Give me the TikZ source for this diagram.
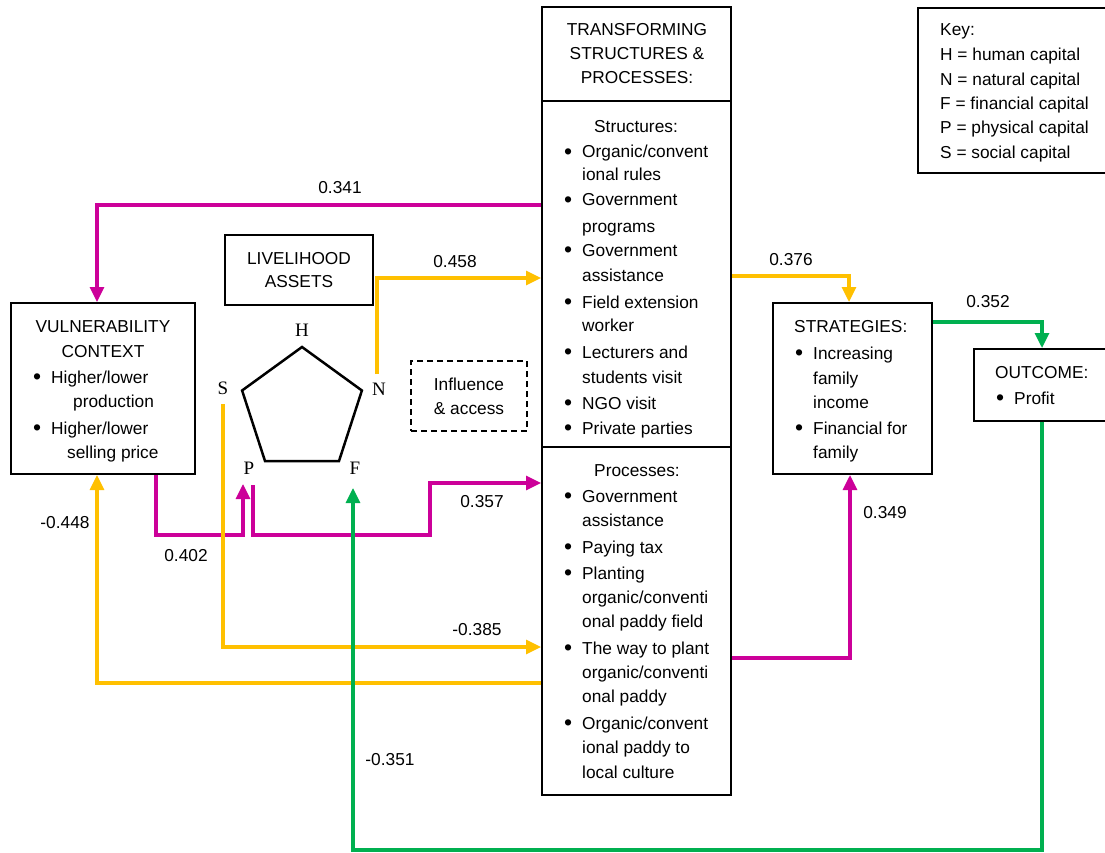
\documentclass[tikz,border=0pt]{standalone}
\usepackage{fontspec}
\setmainfont{Liberation Sans}
\newfontfamily\serifl{Liberation Serif}
\usetikzlibrary{arrows.meta}
\definecolor{mag}{HTML}{CC0099}
\definecolor{yel}{HTML}{FFC000}
\definecolor{grn}{HTML}{00B050}
\newcommand\bul{\llap{\raisebox{-1.5pt}{\fontsize{23}{20}\selectfont\textbullet}\hspace{10pt}}}
\newcommand\ltext[4]{\node[txt,anchor=base west] (#1) at (#2,{#3+6}) {#4};}
\newcommand\ctext[4]{\node[txt,anchor=base] (#1) at (#2,{#3+6}) {#4};}
\begin{document}
\begin{tikzpicture}[x=1pt,y=-1pt,
  txt/.style={inner sep=0pt,font=\fontsize{17.3}{20}\selectfont},
  lbl/.style={inner sep=0pt,font=\fontsize{17.3}{20}\selectfont},
  seriflbl/.style={inner sep=0pt,font=\serifl\fontsize{19}{20}\selectfont},
  box/.style={draw,line width=2pt,inner sep=0pt},
  conn/.style={line width=3.2pt,line join=miter,-{Triangle[length=15pt,width=14pt]}},
  mc/.style={conn,draw=mag},
  yc/.style={conn,draw=yel},
  gc/.style={conn,draw=grn}]
\useasboundingbox (0,0) rectangle (1105,853);
\fill[white] (0,0) rectangle (1105,853);

% boxes
\node[box,minimum width=184pt,minimum height=171pt] (vul) at (103,388.5) {};
\node[box,minimum width=148pt,minimum height=70pt] (live) at (299,270) {};
\node[box,dash pattern=on 6pt off 4pt,minimum width=116pt,minimum height=70pt] (infl) at (469,396) {};
\node[box,minimum width=189pt,minimum height=94pt] (tsph) at (636.5,54) {};
\node[box,minimum width=189pt,minimum height=346pt] (tsps) at (636.5,274) {};
\node[box,minimum width=189pt,minimum height=348pt] (tspp) at (636.5,621) {};
\node[box,minimum width=159pt,minimum height=171pt] (strat) at (852.5,388.5) {};
\node[box,minimum width=136pt,minimum height=72pt] (outc) at (1042,385) {};
\node[box,minimum width=192pt,minimum height=165pt] (key) at (1014,90.5) {};

% pentagon
\draw[line width=2.5pt,line join=miter] (302,347) -- (361.9,390.5) -- (339,461) -- (265,461) -- (242.1,390.5) -- cycle;
\node[seriflbl] (capH) at (302,330) {H};
\node[seriflbl] (capS) at (223,388) {S};
\node[seriflbl] (capN) at (379,389) {N};
\node[seriflbl] (capP) at (249,468) {P};
\node[seriflbl] (capF) at (355,468) {F};

% texts
\ctext{v1}{103}{326}{VULNERABILITY}
\ctext{v2}{103}{351}{CONTEXT}
\ltext{v3}{51}{377}{\bul Higher/lower}
\ltext{v4}{73}{401}{production}
\ltext{v5}{51}{428}{\bul Higher/lower}
\ltext{v6}{67}{452}{selling price}

\ctext{l1}{299}{258}{LIVELIHOOD}
\ctext{l2}{299}{281}{ASSETS}
\ctext{i1}{469}{384}{Influence}
\ctext{i2}{469}{408}{\& access}

\ctext{t1}{637}{30}{TRANSFORMING}
\ctext{t2}{637}{54}{STRUCTURES \&}
\ctext{t3}{637}{78}{PROCESSES:}

\ctext{s0}{636}{127}{Structures:}
\ltext{s1}{582}{152}{\bul Organic/convent}
\ltext{s2}{582}{175}{ional rules}
\ltext{s3}{582}{200}{\bul Government}
\ltext{s4}{582}{226}{programs}
\ltext{s5}{582}{250}{\bul Government}
\ltext{s6}{582}{275}{assistance}
\ltext{s7}{582}{302}{\bul Field extension}
\ltext{s8}{582}{325}{worker}
\ltext{s9}{582}{352}{\bul Lecturers and}
\ltext{s10}{582}{377}{students visit}
\ltext{s11}{582}{403}{\bul NGO visit}
\ltext{s12}{582}{428}{\bul Private parties}

\ctext{p0}{637}{470}{Processes:}
\ltext{p1}{582}{496}{\bul Government}
\ltext{p2}{582}{520}{assistance}
\ltext{p3}{582}{547}{\bul Paying tax}
\ltext{p4}{582}{573}{\bul Planting}
\ltext{p5}{582}{597}{organic/conventi}
\ltext{p6}{582}{621}{onal paddy field}
\ltext{p7}{582}{648}{\bul The way to plant}
\ltext{p8}{582}{672}{organic/conventi}
\ltext{p9}{582}{696}{onal paddy}
\ltext{p10}{582}{723}{\bul Organic/convent}
\ltext{p11}{582}{747}{ional paddy to}
\ltext{p12}{582}{772}{local culture}

\ltext{g0}{794}{326}{STRATEGIES:}
\ltext{g1}{813}{353}{\bul Increasing}
\ltext{g2}{813}{378}{family}
\ltext{g3}{813}{402}{income}
\ltext{g4}{813}{428}{\bul Financial for}
\ltext{g5}{813}{452}{family}

\ltext{o0}{995}{372}{OUTCOME:}
\ltext{o1}{1014}{398}{\bul Profit}

\ltext{k0}{940}{30}{Key:}
\ltext{k1}{940}{55}{H = human capital}
\ltext{k2}{940}{80}{N = natural capital}
\ltext{k3}{940}{104}{F = financial capital}
\ltext{k4}{940}{128}{P = physical capital}
\ltext{k5}{940}{153}{S = social capital}

% connector free ends
\coordinate (nN) at (377,374);
\coordinate (sS) at (223,404);
\coordinate (pP1) at (243,484);
\coordinate (pP2) at (253,485);
\coordinate (fF) at (353,488);

% connectors
\draw[mc] (tsps.west |- 0,205) -| (vul.north -| 97,0);
\draw[yc] (nN) |- (tsps.west |- 0,278);
\draw[yc] (tsps.east |- 0,276) -| (strat.north -| 849,0);
\draw[mc] (tspp.east |- 0,658) -| (strat.south -| 850,0);
\draw[mc] (vul.south -| 156,0) |- (pP1 |- 0,535) -- (pP1);
\draw[mc] (pP2) |- (430,535) |- (tspp.west |- 0,483);
\draw[yc] (sS) |- (tspp.west |- 0,647);
\draw[yc] (tspp.west |- 0,683) -| (vul.south -| 97,0);
\draw[gc] (strat.east |- 0,322) -| (outc.north);
\draw[gc] (outc.south) -- (outc.south |- 0,850) -| (fF);

% labels
\node[lbl] (x341) at (340,188) {0.341};
\node[lbl] (x458) at (455,262) {0.458};
\node[lbl] (x376) at (791,260) {0.376};
\node[lbl] (x352) at (988,302) {0.352};
\node[lbl] (x448) at (65,523) {-0.448};
\node[lbl] (x402) at (186,556) {0.402};
\node[lbl] (x357) at (482,502) {0.357};
\node[lbl] (x385) at (477,630) {-0.385};
\node[lbl] (x349) at (885,513) {0.349};
\node[lbl] (x351) at (390,760) {-0.351};
\end{tikzpicture}
\end{document}
